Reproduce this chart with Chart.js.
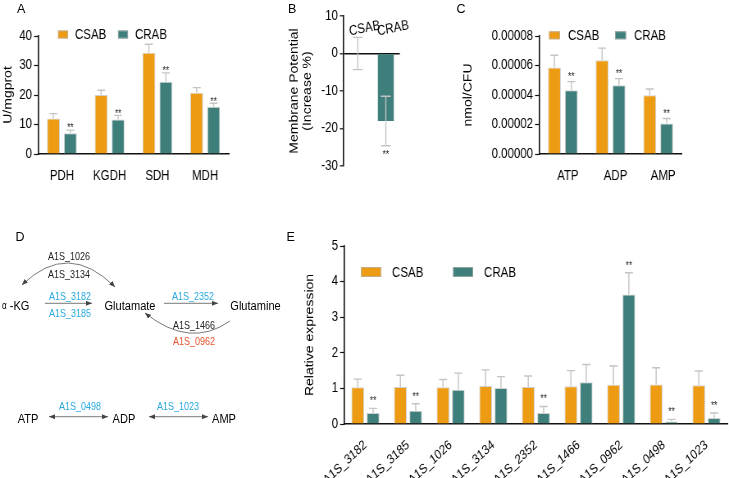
<!DOCTYPE html>
<html>
<head>
<meta charset="utf-8">
<script src="https://cdn.jsdelivr.net/npm/chart.js@4.4.1/dist/chart.umd.min.js"></script>
<style>
  html, body { margin: 0; padding: 0; background: #fff; overflow: hidden; width: 729px; height: 478px; }
  /* the whole figure is drawn wide and squeezed horizontally, like the source image */
  #page { position: relative; width: 889px; height: 478px; transform: scaleX(0.82); transform-origin: 0 0; background: #fff; }
  canvas { position: absolute; }
  #overlay { position: absolute; left: 0; top: 0; }
</style>
</head>
<body>
<div id="page">
  <canvas id="chartA"></canvas>
  <canvas id="chartB"></canvas>
  <canvas id="chartC"></canvas>
  <canvas id="chartE"></canvas>

  <svg id="overlay" width="889" height="478" xmlns="http://www.w3.org/2000/svg">
    <defs>
      <marker id="ah" viewBox="0 0 6 5" refX="6" refY="2.5" markerWidth="6" markerHeight="5"
              markerUnits="userSpaceOnUse" orient="auto-start-reverse">
        <path d="M0,0 L6,2.5 L0,5 z" fill="#444"/>
      </marker>
    </defs>
    <!-- real pixel coordinates (undo the squeeze) -->
    <g transform="scale(1.2195122,1)">
      <g font-family="'Liberation Sans', Arial, sans-serif" font-size="12.5" fill="#000">
        <text x="17" y="12.7">A</text>
        <text x="288" y="12.7">B</text>
        <text x="456.5" y="12.7">C</text>
        <text x="15.5" y="240.7">D</text>
        <text x="286.5" y="240.7">E</text>
      </g>
      <g stroke="#555" stroke-width="0.8" fill="none">
        <path d="M22,285 Q68,240 115,287" marker-start="url(#ah)" marker-end="url(#ah)"/>
        <path d="M230,321 Q190,349 145,313" marker-end="url(#ah)"/>
        <line x1="45" y1="303.3" x2="92" y2="303.3" marker-end="url(#ah)"/>
        <line x1="164" y1="303.3" x2="218" y2="303.3" marker-end="url(#ah)"/>
        <line x1="49" y1="416.7" x2="108" y2="416.7" marker-start="url(#ah)" marker-end="url(#ah)"/>
        <line x1="149" y1="416.7" x2="208" y2="416.7" marker-start="url(#ah)" marker-end="url(#ah)"/>
      </g>
    </g>
    <g id="diagramText" font-family="'Liberation Sans', Arial, sans-serif" dominant-baseline="central" text-anchor="middle"></g>
  </svg>
</div>

<script>
const SX = 0.82; // horizontal squeeze of the page

// colours of the two strains
const colorCSAB = '#ec9b13';
const colorCRAB = '#3e7f7b';

// A: enzyme activity (U/mgprot)
const enzymeLabels = ['PDH', 'KGDH', 'SDH', 'MDH'];
const enzymeCSAB = [12.0, 20.0, 34.3, 20.8];
const enzymeCSABErr = [1.7, 1.6, 2.9, 1.7];
const enzymeCRAB = [7.0, 11.7, 24.5, 16.0];
const enzymeCRABErr = [1.1, 1.4, 3.0, 1.2];
const enzymeSigCRAB = [true, true, true, true];

// B: membrane potential (increase %)
const mpLabels = ['CSAB', 'CRAB'];
const mpValues = [0, -18.0];
const mpErr = [4.3, 6.6];
const mpSig = [false, true];

// C: nucleotides (nmol/CFU)
const nucLabels = ['ATP', 'ADP', 'AMP'];
const nucCSAB = [0.0000586, 0.0000635, 0.0000399];
const nucCSABErr = [0.0000083, 0.0000083, 0.0000042];
const nucCRAB = [0.0000432, 0.0000466, 0.0000207];
const nucCRABErr = [0.0000059, 0.0000045, 0.0000034];
const nucSigCRAB = [true, true, true];

// E: relative expression of genes
const geneLabels = ['A1S_3182', 'A1S_3185', 'A1S_1026', 'A1S_3134', 'A1S_2352',
                    'A1S_1466', 'A1S_0962', 'A1S_0498', 'A1S_1023'];
const geneCSAB = [1.03, 1.04, 1.03, 1.07, 1.04, 1.06, 1.10, 1.11, 1.09];
const geneCSABErr = [0.23, 0.33, 0.22, 0.45, 0.31, 0.44, 0.53, 0.47, 0.40];
const geneCRAB = [0.31, 0.37, 0.96, 1.01, 0.31, 1.17, 3.64, 0.07, 0.17];
const geneCRABErr = [0.13, 0.20, 0.47, 0.32, 0.18, 0.50, 0.61, 0.06, 0.14];
const geneSigCRAB = [true, true, false, false, true, false, true, true, true];

// D: pathway labels [text, x, y, colour, size]
const blue = '#29a8e0', red = '#e8532b', dark = '#222';
const diagramLabels = [
  ['A1S_1026', 69, 256, dark, 11], ['A1S_3134', 69, 274, dark, 11],
  ['A1S_3182', 70, 296, blue, 11], ['A1S_3185', 70, 312.7, blue, 11],
  ['A1S_2352', 193, 296, blue, 11],
  ['A1S_1466', 194, 325, dark, 11], ['A1S_0962', 194, 340.7, red, 11],
  ['A1S_0498', 80, 406, blue, 11], ['A1S_1023', 178, 406, blue, 11],
  ['Glutamate', 130, 306, '#000', 13.5], ['Glutamine', 255.5, 306, '#000', 13.5],
  ['ATP', 28, 418.3, '#000', 13.5], ['ADP', 124, 418.3, '#000', 13.5], ['AMP', 224, 418.3, '#000', 13.5]
];

const SVGNS = 'http://www.w3.org/2000/svg';
const dg = document.getElementById('diagramText');
diagramLabels.forEach(([t, x, y, col, size]) => {
  const el = document.createElementNS(SVGNS, 'text');
  el.setAttribute('x', x / SX); el.setAttribute('y', y);
  el.setAttribute('fill', col); el.setAttribute('font-size', size);
  el.textContent = t;
  dg.appendChild(el);
});
{
  const el = document.createElementNS(SVGNS, 'text');
  el.setAttribute('x', 2 / SX); el.setAttribute('y', 306);
  el.setAttribute('text-anchor', 'start'); el.setAttribute('fill', '#000'); el.setAttribute('font-size', 13.5);
  el.innerHTML = '<tspan font-size="10">α</tspan> -KG';
  dg.appendChild(el);
}

const FONT = '"Liberation Sans", Arial, sans-serif';
Chart.defaults.font.family = FONT;
Chart.defaults.font.size = 14;
Chart.defaults.color = '#000';
Chart.defaults.animation = false;

// size a canvas from real (unsqueezed) pixel coordinates
function frame(id, f) {
  const c = document.getElementById(id);
  const w = Math.round(f.width / SX);
  c.width = w; c.height = f.height;
  c.style.left = (f.left / SX) + 'px';
  c.style.top = f.top + 'px';
  return { yWidth: (f.plotLeft - f.left) / SX, padRight: w - (f.plotRight - f.left) / SX };
}

// error bars + significance stars, drawn through the y scale
function errorBarPlugin(errs, sigs, o) {
  return {
    id: 'errorBars',
    afterDatasetsDraw(chart) {
      const ctx = chart.ctx;
      const y = chart.scales.y;
      const cap = o.cap / SX;
      ctx.save();
      chart.data.datasets.forEach((ds, di) => {
        chart.getDatasetMeta(di).data.forEach((bar, i) => {
          const v = ds.data[i], e = errs[di][i];
          const x = bar.x;
          const yHi = y.getPixelForValue(v + e);
          const yLo = y.getPixelForValue(o.both ? v - e : v);
          ctx.strokeStyle = '#c4c4c4';
          ctx.lineWidth = 1.4;
          ctx.beginPath();
          ctx.moveTo(x, yLo); ctx.lineTo(x, yHi);
          ctx.moveTo(x - cap, yHi); ctx.lineTo(x + cap, yHi);
          if (o.both) { ctx.moveTo(x - cap, yLo); ctx.lineTo(x + cap, yLo); }
          ctx.stroke();
          if (sigs[di] && sigs[di][i]) {
            ctx.fillStyle = '#222';
            ctx.font = o.starSize + 'px ' + FONT;
            ctx.textAlign = 'center';
            ctx.textBaseline = 'alphabetic';
            const cy = o.below ? yLo + o.starGap : yHi - o.starGap;
            ctx.fillText('**', x, cy + 0.58 * o.starSize);
          }
        });
      });
      ctx.restore();
    }
  };
}

// box legend placed inside the plot area (offsets in real px)
function boxLegend(o) {
  return {
    id: 'boxLegend',
    afterDraw(chart) {
      const ctx = chart.ctx, a = chart.chartArea;
      ctx.save();
      chart.data.datasets.forEach((ds, i) => {
        const bx = a.left + (o.x + i * o.step) / SX;
        const cy = a.top + o.y;
        const w = o.w / SX;
        ctx.fillStyle = ds.backgroundColor;
        ctx.fillRect(bx, cy - o.h / 2, w, o.h);
        ctx.strokeStyle = 'rgba(180,180,180,0.7)';
        ctx.lineWidth = 1;
        ctx.strokeRect(bx + 0.5, cy - o.h / 2 + 0.5, w - 1, o.h - 1);
        ctx.fillStyle = '#000';
        ctx.font = o.size + 'px ' + FONT;
        ctx.textAlign = 'left';
        ctx.textBaseline = 'middle';
        ctx.fillText(ds.label, bx + w + o.gap / SX, cy + 1);
      });
      ctx.restore();
    }
  };
}

// slanted category names above the zero line (panel B)
const slantedLabels = {
  id: 'slantedLabels',
  afterDraw(chart) {
    const ctx = chart.ctx, x = chart.scales.x, y = chart.scales.y;
    const y0 = y.getPixelForValue(0);
    ctx.save();
    ctx.fillStyle = '#000';
    ctx.font = '14px ' + FONT;
    ctx.textAlign = 'left';
    ctx.textBaseline = 'alphabetic';
    mpLabels.forEach((lab, i) => {
      ctx.save();
      ctx.translate(x.getPixelForValue(i) - 8 / SX, y0 - 18);
      ctx.rotate(-9.5 * Math.PI / 180);
      ctx.fillText(lab, 0, 0);
      ctx.restore();
    });
    ctx.restore();
  }
};

function valueAxis(o) {
  const ticks = { stepSize: o.step, padding: 2 / SX, color: '#000', font: { size: 14 } };
  if (o.format) ticks.callback = o.format;
  return {
    min: o.min, max: o.max,
    afterFit: s => { s.width = o.width; },
    border: { color: '#111', width: 1.6 },
    grid: o.grid || { drawOnChartArea: false, tickLength: 4 / SX, tickColor: '#111', tickWidth: 1.2 },
    ticks: ticks,
    title: { display: true, text: o.title, color: '#000',
             font: { size: 14, lineHeight: 1.13 }, padding: { top: o.titlePad, bottom: 0 } }
  };
}

function categoryAxis(o) {
  return {
    afterFit: s => { s.height = o.height; },
    border: { color: '#111', width: 1.6 },
    grid: { display: false },
    ticks: Object.assign({ color: '#000', autoSkip: false, font: { size: o.size || 14 } }, o.ticks || {})
  };
}

function barSet(label, data, color) {
  return { label, data, backgroundColor: color,
           borderColor: 'rgba(200,200,200,0.85)', borderWidth: 1 };
}

const noLegend = { legend: { display: false }, tooltip: { enabled: false } };

// Panel A
const fA = frame('chartA', { left: 0, top: 0, width: 240, height: 185, plotLeft: 38, plotRight: 229 });
new Chart(document.getElementById('chartA'), {
  type: 'bar',
  data: {
    labels: enzymeLabels,
    datasets: [barSet('CSAB', enzymeCSAB, colorCSAB), barSet('CRAB', enzymeCRAB, colorCRAB)]
  },
  options: {
    responsive: false,
    categoryPercentage: 0.71, barPercentage: 0.76,
    layout: { padding: { top: 36, right: fA.padRight, left: 0, bottom: 0 } },
    plugins: noLegend,
    scales: {
      x: categoryAxis({ height: 31, ticks: { padding: 6, maxRotation: 0 } }),
      y: valueAxis({ min: 0, max: 40, step: 10, width: fA.yWidth, titlePad: 1.9, title: 'U/mgprot' })
    }
  },
  plugins: [
    errorBarPlugin([enzymeCSABErr, enzymeCRABErr], [null, enzymeSigCRAB],
                   { cap: 4, starSize: 10, starGap: 4.5 }),
    boxLegend({ x: 20, y: -1.5, w: 10, h: 8, step: 60, gap: 7, size: 14 })
  ]
});

// Panel B
const fB = frame('chartB', { left: 288, top: 0, width: 132, height: 185, plotLeft: 344, plotRight: 400 });
new Chart(document.getElementById('chartB'), {
  type: 'bar',
  data: {
    labels: mpLabels,
    datasets: [{ label: 'Membrane Potential', data: mpValues,
                 backgroundColor: [colorCSAB, colorCRAB], borderWidth: 0 }]
  },
  options: {
    responsive: false,
    categoryPercentage: 1, barPercentage: 0.57,
    layout: { padding: { top: 16, right: fB.padRight, left: 0, bottom: 19 } },
    plugins: noLegend,
    scales: {
      x: { display: false },
      y: valueAxis({
        min: -30, max: 10, step: 10, width: fB.yWidth, titlePad: 0.6,
        title: ['Membrane Potential', '(Increase %)'],
        grid: { drawOnChartArea: true, tickLength: 4 / SX, tickColor: '#111', tickWidth: 1.2, lineWidth: 1.6,
                color: c => (c.tick && c.tick.value === 0) ? '#111' : 'rgba(0,0,0,0)' }
      })
    }
  },
  plugins: [
    errorBarPlugin([mpErr], [mpSig], { cap: 5, both: true, below: true, starSize: 10, starGap: 6 }),
    slantedLabels
  ]
});

// Panel C
const fC = frame('chartC', { left: 460, top: 0, width: 269, height: 185, plotLeft: 539, plotRight: 682 });
new Chart(document.getElementById('chartC'), {
  type: 'bar',
  data: {
    labels: nucLabels,
    datasets: [barSet('CSAB', nucCSAB, colorCSAB), barSet('CRAB', nucCRAB, colorCRAB)]
  },
  options: {
    responsive: false,
    categoryPercentage: 0.71, barPercentage: 0.76,
    layout: { padding: { top: 36, right: fC.padRight, left: 0, bottom: 0 } },
    plugins: noLegend,
    scales: {
      x: categoryAxis({ height: 31, ticks: { padding: 6, maxRotation: 0, labelOffset: 5 / SX } }),
      y: valueAxis({ min: 0, max: 0.00008, step: 0.00002, width: fC.yWidth, titlePad: 1.9,
                     title: 'nmol/CFU', format: v => v.toFixed(5) })
    }
  },
  plugins: [
    errorBarPlugin([nucCSABErr, nucCRABErr], [null, nucSigCRAB],
                   { cap: 4, starSize: 10, starGap: 7 }),
    boxLegend({ x: 10, y: -0.7, w: 11, h: 8, step: 66, gap: 8, size: 14 })
  ]
});

// Panel E
const fE = frame('chartE', { left: 302, top: 220, width: 427, height: 258, plotLeft: 344.3, plotRight: 728 });
new Chart(document.getElementById('chartE'), {
  type: 'bar',
  data: {
    labels: geneLabels,
    datasets: [barSet('CSAB', geneCSAB, colorCSAB), barSet('CRAB', geneCRAB, colorCRAB)]
  },
  options: {
    responsive: false,
    categoryPercentage: 0.72, barPercentage: 0.83,
    layout: { padding: { top: 26, right: fE.padRight, left: 0, bottom: 0 } },
    plugins: noLegend,
    scales: {
      x: categoryAxis({ height: 54, size: 13.5, ticks: { padding: 5, maxRotation: 38, minRotation: 38 } }),
      y: valueAxis({ min: 0, max: 5, step: 1, width: fE.yWidth, titlePad: 1.9, title: 'Relative expression' })
    }
  },
  plugins: [
    errorBarPlugin([geneCSABErr, geneCRABErr], [null, geneSigCRAB],
                   { cap: 4, starSize: 10, starGap: 10 }),
    boxLegend({ x: 17, y: 26, w: 20, h: 10, step: 92, gap: 11, size: 14 })
  ]
});
</script>
</body>
</html>
